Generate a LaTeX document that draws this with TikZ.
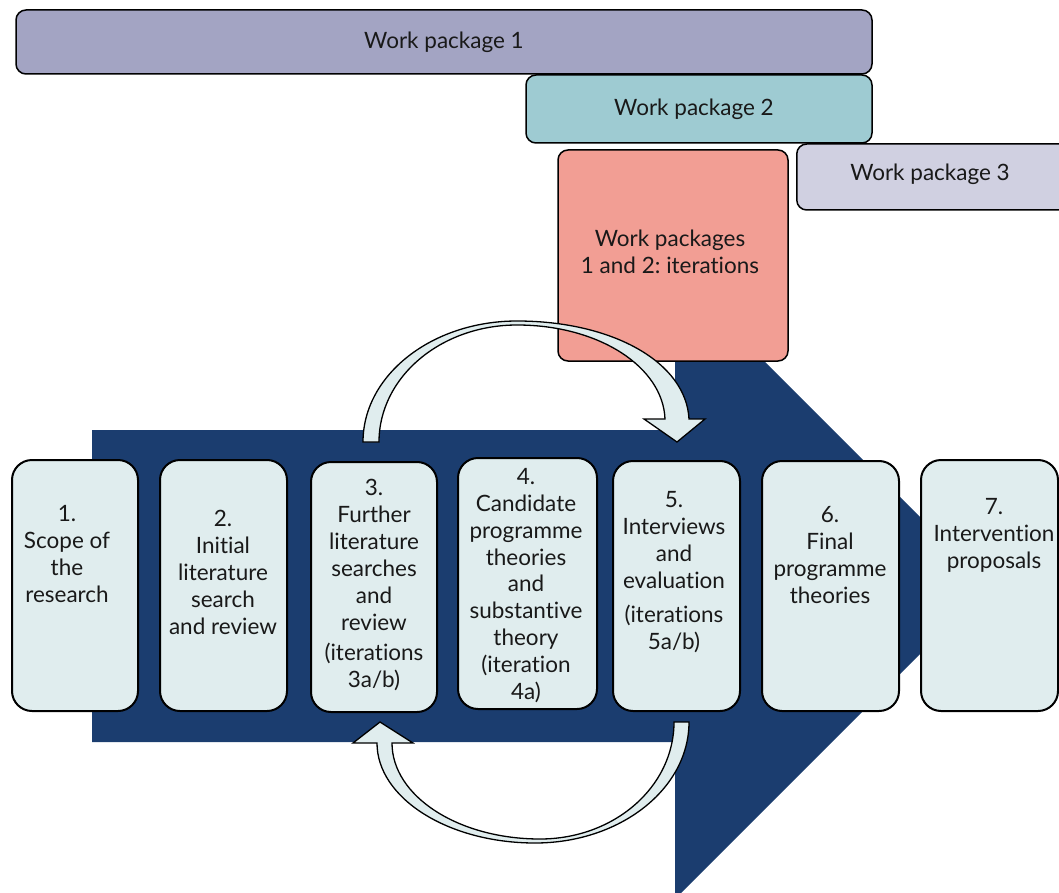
\documentclass[tikz,border=0pt]{standalone}
\usepackage{fontspec}
\setmainfont{Lato}[Ligatures=NoCommon]
\frenchspacing
\definecolor{navy}{HTML}{1B3D6F}
\definecolor{wpone}{HTML}{A3A4C3}
\definecolor{wptwo}{HTML}{9ECBD2}
\definecolor{wpthree}{HTML}{D0D0E1}
\definecolor{wpred}{HTML}{F29E94}
\definecolor{boxfill}{HTML}{E0EDEE}
\newcommand{\stagefont}{\fontsize{22.5}{26.9}\selectfont}
\tikzset{
  stagebox/.style={draw=black, line width=2pt, fill=boxfill, rounded corners=20pt, inner sep=0pt},
  stagetext/.style={align=center, font=\stagefont, inner sep=0pt, text=black!90},
  wpbox/.style={draw=black, line width=1.5pt, rounded corners=10pt, inner sep=0pt, font=\stagefont, text=black!90},
  loopshape/.style={draw=black, line width=1.3pt, fill=boxfill, line join=miter},
}
\begin{document}
\begin{tikzpicture}[x=1pt, y=-1pt]
\useasboundingbox (0,0) rectangle (1059,893);
\clip (0,0) rectangle (1059,893);

% big process arrow
\fill[navy] (92,430) -- (675,430) -- (675,272) -- (988.5,585.5) -- (675,899) -- (675,742) -- (92,742) -- cycle;

% work package bars
\node[wpbox, fill=wpone, minimum width=856pt, minimum height=64pt] (wp1) at (444,42) {Work package 1};
\node[wpbox, fill=wptwo, minimum width=346pt, minimum height=68pt] (wp2) at (699,109) {\hspace*{-10pt}Work package 2};
\node[wpbox, fill=wpthree, minimum width=279pt, minimum height=66pt, anchor=west] (wp3) at (796,177) {};
\node[font=\stagefont, text=black!90, inner sep=0pt] (wp3t) at (930,174) {Work package 3};
\node[wpbox, fill=wpred, minimum width=230pt, minimum height=211pt] (wpit) at (673,255.5) {};
\node[stagetext] (wpitt) at (670,252) {Work packages\\1 and 2: iterations};

% stage boxes
\node[stagebox, minimum width=126pt, minimum height=251pt] (s1) at (75,585.5) {};
\node[stagebox, minimum width=127pt, minimum height=251pt] (s2) at (223.5,585.5) {};
\node[stagebox, minimum width=126pt, minimum height=250pt] (s3) at (374,587) {};
\node[stagebox, minimum width=139pt, minimum height=251pt] (s4) at (527.5,583.5) {};
\node[stagebox, minimum width=127pt, minimum height=250pt] (s5) at (676.5,586) {};
\node[stagebox, minimum width=137pt, minimum height=250pt] (s6) at (830.5,586) {};
\node[stagebox, minimum width=137pt, minimum height=251pt] (s7) at (989.5,585.5) {};

\node[stagetext] (t1) at (67,554) {1.\\Scope of\\the\\research};
\node[stagetext] (t2) at (223,572.5) {2.\\Initial\\literature\\search\\and review};
\node[stagetext] (t3) at (374,585) {3.\\Further\\literature\\searches\\and\\review\\[3pt](iterations\\3a/b)};
\node[stagetext] (t4) at (526,585.5) {4.\\Candidate\\programme\\theories\\and\\substantive\\theory\\(iteration\\4a)};
\node[stagetext] (t5) at (674,572) {5.\\Interviews\\and\\evaluation\\[7pt](iterations\\5a/b)};
\node[stagetext] (t6) at (830,555) {6.\\Final\\programme\\theories};
\node[stagetext] (t7) at (994,535) {7.\\Intervention\\proposals};

% iteration loop, over the top: from stage 3 to stage 5
\draw[loopshape] (363,442) .. controls (363,375) and (432,321) .. (517,321)
  .. controls (612,321) and (686,362) .. (689,419) -- (705,419) -- (677,442) -- (644,419) -- (665,419)
  .. controls (663,367) and (599,325) .. (517,325)
  .. controls (441,325) and (379,377) .. (379,442) -- cycle;

% iteration loop, underneath: from stage 5 back to stage 3
\draw[loopshape] (689,722) .. controls (689,789) and (620,843) .. (535,843)
  .. controls (448,843) and (377,798) .. (377,743) -- (353,743) -- (380,722) -- (413,743) -- (392,743)
  .. controls (392,796) and (458,839) .. (540,839)
  .. controls (614,839) and (674,787) .. (674,722) -- cycle;
\end{tikzpicture}
\end{document}
